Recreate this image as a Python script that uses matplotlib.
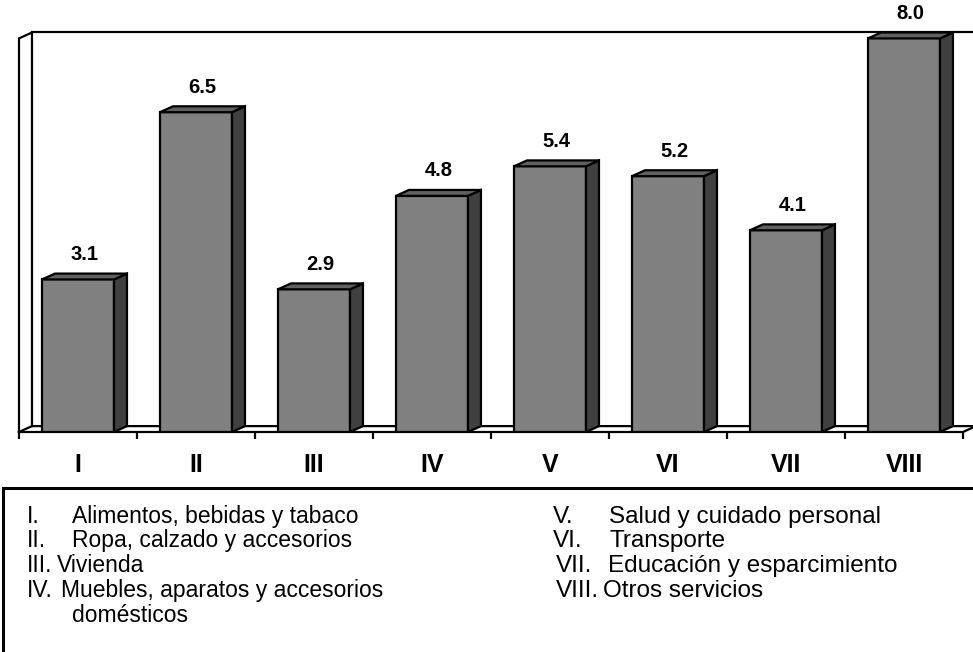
import matplotlib
matplotlib.use("Agg")
import matplotlib.pyplot as plt
from matplotlib.patches import Polygon, Rectangle

plt.rcParams['font.family'] = ['Liberation Sans', 'DejaVu Sans']

#################################################
# Data
categories = ["I", "II", "III", "IV", "V", "VI", "VII", "VIII"]
values = [3.1, 6.5, 2.9, 4.8, 5.4, 5.2, 4.1, 8.0]

legend_left = [
    ("I.", "Alimentos, bebidas y tabaco"),
    ("II.", "Ropa, calzado y accesorios"),
    ("III.", "Vivienda"),
    ("IV.", "Muebles, aparatos y accesorios"),
    ("", "domésticos"),
]
legend_right = [
    ("V.", "Salud y cuidado personal"),
    ("VI.", "Transporte"),
    ("VII.", "Educación y esparcimiento"),
    ("VIII.", "Otros servicios"),
]

#################################################
# Figure / axes
W, H = 973, 652
fig = plt.figure(figsize=(W / 100, H / 100), dpi=100)

px_unit = 49.2
ytop = 8.6
ax = fig.add_axes([19 / W, 220 / H, 944 / W, ytop * px_unit / H])
ax.set_xlim(0, len(categories))
ax.set_ylim(0, ytop)
for s in ax.spines.values():
    s.set_visible(False)

dx, dy = 0.11, 0.12   # depth of the fake 3D
wall_top = 8.0
n = len(categories)
lw = 1.6

# walls and floor
ax.plot([0, 0, dx, dx], [0, wall_top, wall_top + dy, dy], color="black", lw=lw, clip_on=False)
ax.plot([dx, n + dx, n + dx], [wall_top + dy, wall_top + dy, dy], color="black", lw=lw, clip_on=False)
ax.plot([0, dx, n + dx], [0, dy, dy], color="black", lw=lw, clip_on=False)
ax.plot([0, n, n + dx], [0, 0, dy], color="black", lw=lw, clip_on=False)

# bars
bw = 0.61
for i, v in enumerate(values):
    x0 = i + 0.5 - bw / 2
    x1 = x0 + bw
    ax.bar(i + 0.5, v, width=bw, color="#808080", edgecolor="black", linewidth=lw, zorder=3)
    side = Polygon([(x1, 0), (x1 + dx, dy), (x1 + dx, v + dy), (x1, v)],
                   closed=True, facecolor="#404040", edgecolor="black", lw=lw, zorder=3)
    top = Polygon([(x0, v), (x0 + dx, v + dy), (x1 + dx, v + dy), (x1, v)],
                  closed=True, facecolor="#606060", edgecolor="black", lw=lw, zorder=3)
    ax.add_patch(side)
    ax.add_patch(top)
    ax.annotate(f"{v:.1f}", (i + 0.5 + dx / 2, v + dy), xytext=(0, 7),
                textcoords="offset points", ha="center", va="bottom",
                fontsize=14.5, fontweight="bold")

# ticks
ax.set_xticks(range(n + 1))
ax.set_xticklabels([])
ax.set_xticks([i + 0.5 for i in range(n)], minor=True)
ax.set_xticklabels(categories, minor=True, fontsize=18, fontweight="bold")
ax.tick_params(axis="x", which="major", direction="out", length=5, width=lw)
ax.tick_params(axis="x", which="minor", length=0, pad=15)
ax.set_yticks([])

#################################################
# Legend box
fig.patches.append(Rectangle((3 / W, -0.05), 1.05, (H - 488) / H + 0.05,
                             transform=fig.transFigure, fill=False,
                             edgecolor="black", lw=2.2))

rows_y = [523, 547, 572, 597, 622]   # baselines
text_x_left = [72, 72, 57, 61, 72]
for (num, txt), y, tx in zip(legend_left, rows_y, text_x_left):
    if num:
        fig.text(27 / W, 1 - y / H, num, fontsize=16.5, va="baseline")
    fig.text(tx / W, 1 - y / H, txt, fontsize=16.5, va="baseline")

num_x_right = [553, 553, 556, 556]
text_x_right = [609, 609, 608, 603]
for (num, txt), y, nx, tx in zip(legend_right, rows_y, num_x_right, text_x_right):
    fig.text(nx / W, 1 - y / H, num, fontsize=17.5, va="baseline")
    fig.text(tx / W, 1 - y / H, txt, fontsize=17.5, va="baseline")

plt.savefig("out.png", dpi=100)
